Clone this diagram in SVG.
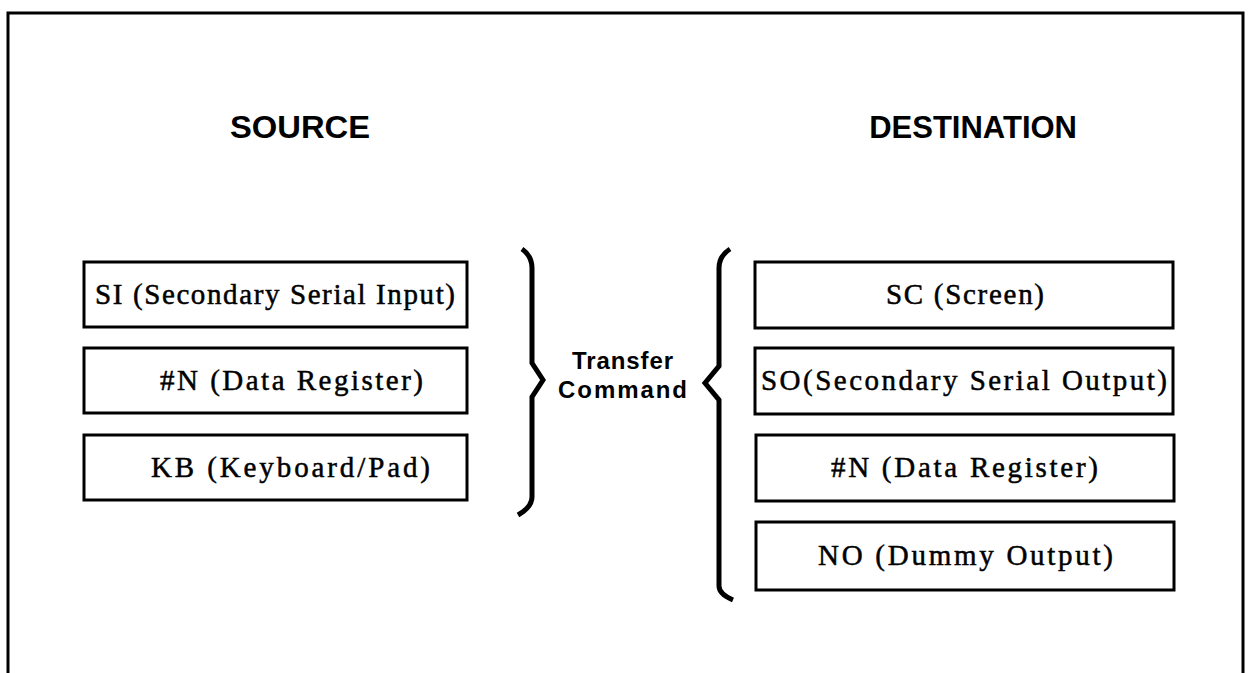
<svg xmlns="http://www.w3.org/2000/svg" width="1250" height="673" viewBox="0 0 1250 673">
  <style>
    .frame { fill: none; stroke: #000; stroke-width: 3; }
    .box { fill: #fff; stroke: #000; stroke-width: 3; }
    .brace { fill: none; stroke: #000; stroke-width: 5; stroke-linejoin: miter; stroke-linecap: butt; }
    .head { font-family: "Liberation Sans", Arial, sans-serif; font-weight: bold; font-size: 31px; fill: #000; }
    .cmd { font-family: "Liberation Sans", Arial, sans-serif; font-weight: bold; font-size: 24px; fill: #000; text-anchor: middle; }
    .lbl { font-family: "Liberation Serif", "Times New Roman", serif; font-size: 29px; fill: #000; stroke: #000; stroke-width: 0.5; }
  </style>
  <rect width="1250" height="673" fill="#fff"/>

  <!-- outer frame, open at the bottom -->
  <path class="frame" d="M8,680 V13 H1243 V680"/>

  <!-- column headings -->
  <text class="head" x="230" y="138" textLength="140" lengthAdjust="spacingAndGlyphs">SOURCE</text>
  <text class="head" x="1077" y="138" text-anchor="end">DESTINATION</text>

  <!-- source nodes -->
  <g id="src-si">
    <rect class="box" x="84" y="262" width="383" height="65"/>
    <text class="lbl" x="95" y="304" textLength="360" lengthAdjust="spacing">SI (Secondary Serial Input)</text>
  </g>
  <g id="src-reg">
    <rect class="box" x="84" y="348" width="383" height="65"/>
    <text class="lbl" x="160" y="390" textLength="263" lengthAdjust="spacing">#N (Data Register)</text>
  </g>
  <g id="src-kb">
    <rect class="box" x="84" y="435" width="383" height="65"/>
    <text class="lbl" x="151" y="477" textLength="279" lengthAdjust="spacing">KB (Keyboard/Pad)</text>
  </g>

  <!-- destination nodes -->
  <g id="dst-sc">
    <rect class="box" x="755" y="262" width="418" height="66"/>
    <text class="lbl" x="886" y="304" textLength="158" lengthAdjust="spacing">SC (Screen)</text>
  </g>
  <g id="dst-so">
    <rect class="box" x="755" y="348" width="418" height="66"/>
    <text class="lbl" x="761" y="390" textLength="406" lengthAdjust="spacing">SO(Secondary Serial Output)</text>
  </g>
  <g id="dst-reg">
    <rect class="box" x="756" y="435" width="418" height="66"/>
    <text class="lbl" x="831" y="477" textLength="267" lengthAdjust="spacing">#N (Data Register)</text>
  </g>
  <g id="dst-no">
    <rect class="box" x="756" y="522" width="418" height="68"/>
    <text class="lbl" x="818" y="565" textLength="295" lengthAdjust="spacing">NO (Dummy Output)</text>
  </g>

  <!-- braces joining the columns -->
  <g id="connectors">
    <path class="brace" d="M522,249 Q532,256 532,268 V363 L543,380 L532,397 V497 Q532,507 518,515"/>
    <path class="brace" d="M730,249 Q719,256 719,268 V366 L705,383 L719,400 V586 Q719,594 733,600"/>
  </g>

  <!-- centre label -->
  <g id="transfer">
    <text class="cmd" x="622.5" y="369" textLength="101" lengthAdjust="spacing">Transfer</text>
    <text class="cmd" x="622.5" y="398" textLength="129" lengthAdjust="spacing">Command</text>
  </g>
</svg>
